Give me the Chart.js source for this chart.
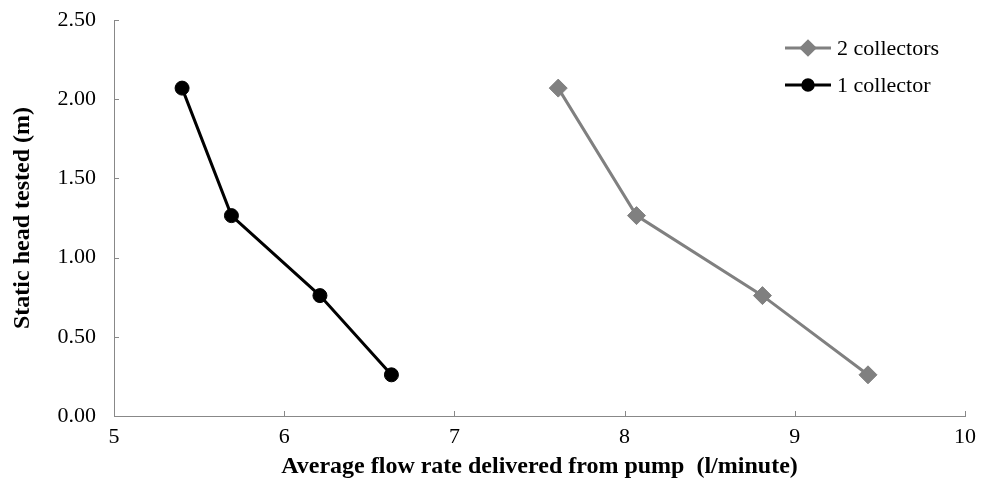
<!DOCTYPE html>
<html>
<head>
<meta charset="utf-8">
<script src="https://cdn.jsdelivr.net/npm/chart.js@4/dist/chart.umd.min.js"></script>
<style>
html,body{margin:0;padding:0;background:#fff;}
#wrap{width:982px;height:487px;position:relative;}
</style>
</head>
<body>
<div id="wrap"><canvas id="c" width="982" height="487"></canvas></div>
<script>
const seriesNames = ['2 collectors', '1 collector'];
const flowTwo = [7.61, 8.07, 8.81, 9.43];
const headTwo = [2.07, 1.265, 0.76, 0.26];
const flowOne = [5.40, 5.69, 6.21, 6.63];
const headOne = [2.07, 1.265, 0.76, 0.26];
const xTicks = [5, 6, 7, 8, 9, 10];
const yTicks = [0, 0.5, 1.0, 1.5, 2.0, 2.5];
const xTitle = 'Average flow rate delivered from pump  (l/minute)';
const yTitle = 'Static head tested (m)';

const toPts = (xs, ys) => xs.map((x, i) => ({x: x, y: ys[i]}));
const GRAY = '#808080';
const AXIS = '#888888';
const FONT = "'Liberation Serif', 'Times New Roman', serif";

const innerTicks = {
  id: 'innerTicks',
  afterDatasetsDraw(chart) {
    const ctx = chart.ctx, xs = chart.scales.x, ys = chart.scales.y, ca = chart.chartArea;
    ctx.save();
    ctx.strokeStyle = AXIS; ctx.lineWidth = 1;
    xTicks.forEach(v => {
      const px = Math.round(xs.getPixelForValue(v)) + 0.5;
      ctx.beginPath(); ctx.moveTo(px, ca.bottom); ctx.lineTo(px, ca.bottom - 5); ctx.stroke();
    });
    yTicks.forEach(v => {
      const py = Math.round(ys.getPixelForValue(v)) + 0.5;
      ctx.beginPath(); ctx.moveTo(ca.left, py); ctx.lineTo(ca.left + 5, py); ctx.stroke();
    });
    ctx.restore();
  }
};

const lineLegend = {
  id: 'lineLegend',
  afterDraw(chart) {
    const ctx = chart.ctx;
    const rows = [48, 85];
    ctx.save();
    chart.data.datasets.forEach((ds, i) => {
      const y = rows[i];
      ctx.strokeStyle = ds.borderColor; ctx.lineWidth = ds.borderWidth;
      ctx.beginPath(); ctx.moveTo(785, y); ctx.lineTo(831, y); ctx.stroke();
      ctx.fillStyle = ds.pointBackgroundColor; ctx.strokeStyle = ds.pointBorderColor;
      Chart.helpers.drawPoint(ctx, {pointStyle: ds.pointStyle, radius: ds.pointRadius * 0.75, borderWidth: 1, rotation: 0}, 808, y);
      ctx.fillStyle = '#000';
      ctx.font = '22px ' + FONT;
      ctx.textBaseline = 'middle';
      ctx.fillText(ds.label, 837, y + 1);
    });
    ctx.restore();
  }
};

new Chart(document.getElementById('c'), {
  type: 'scatter',
  data: {
    datasets: [
      {
        label: seriesNames[0], data: toPts(flowTwo, headTwo), showLine: true,
        borderColor: GRAY, borderWidth: 3, pointStyle: 'rectRot', pointRadius: 9,
        pointBackgroundColor: GRAY, pointBorderColor: GRAY, pointBorderWidth: 1
      },
      {
        label: seriesNames[1], data: toPts(flowOne, headOne), showLine: true,
        borderColor: '#000', borderWidth: 3, pointStyle: 'circle', pointRadius: 7,
        pointBackgroundColor: '#000', pointBorderColor: '#000', pointBorderWidth: 1
      }
    ]
  },
  options: {
    responsive: false, animation: false, devicePixelRatio: 1,
    layout: {padding: {left: 0, right: 17, top: 20, bottom: 0}},
    plugins: {legend: {display: false}, tooltip: {enabled: false}},
    scales: {
      x: {
        type: 'linear', min: 5, max: 10,
        afterBuildTicks: s => { s.ticks = xTicks.map(v => ({value: v})); },
        afterFit: s => { s.height = 71; s.paddingLeft = 0; s.paddingRight = 0; },
        grid: {display: false, drawTicks: false},
        border: {display: true, color: AXIS, width: 1},
        ticks: {color: '#000', font: {family: FONT, size: 22}, padding: 8, maxRotation: 0},
        title: {display: true, text: xTitle, color: '#000', font: {family: FONT, size: 24, weight: 'bold'}, padding: {top: 0, bottom: 6}}
      },
      y: {
        type: 'linear', min: 0, max: 2.5,
        afterBuildTicks: s => { s.ticks = yTicks.map(v => ({value: v})); },
        afterFit: s => { s.width = 114; s.paddingTop = 0; s.paddingBottom = 0; },
        grid: {display: false, drawTicks: false},
        border: {display: true, color: AXIS, width: 1},
        ticks: {color: '#000', font: {family: FONT, size: 22}, padding: 18, callback: v => Number(v).toFixed(2)},
        title: {display: true, text: yTitle, color: '#000', font: {family: FONT, size: 24, weight: 'bold'}, padding: {top: 8, bottom: 0}}
      }
    }
  },
  plugins: [innerTicks, lineLegend]
});
</script>
</body>
</html>
